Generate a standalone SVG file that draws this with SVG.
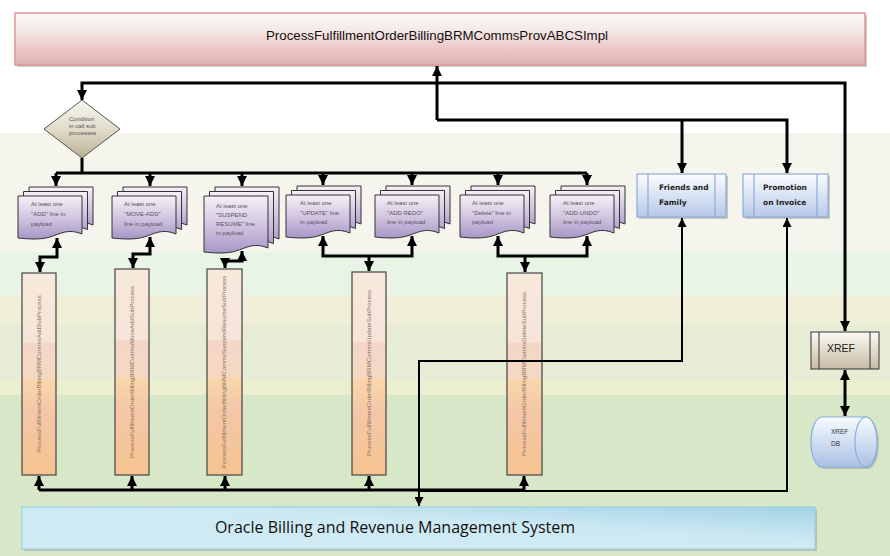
<svg xmlns="http://www.w3.org/2000/svg" width="890" height="556" viewBox="0 0 890 556">
<style>
.ln{fill:none;stroke:#000;stroke-width:3}
.lt{fill:none;stroke:#000;stroke-width:2}
.dt{font-family:"Liberation Sans",Arial,sans-serif;font-size:6px;fill:#5a5060}
.bt{font-family:"Liberation Sans",Arial,sans-serif;font-size:6px;fill:#8a7060;text-anchor:middle}
.pg{stroke:#333;stroke-width:1}
.bar{fill:url(#gBar);stroke:#444;stroke-width:1.2}
.bx{font-family:"DejaVu Sans",Verdana,sans-serif;font-size:7.5px;font-weight:bold;fill:#222}
</style>
<defs>
<linearGradient id="gTop" x1="0" y1="0" x2="0" y2="1"><stop offset="0" stop-color="#fbfaf5"/><stop offset="0.35" stop-color="#f4e8e6"/><stop offset="0.65" stop-color="#efcaca"/><stop offset="1" stop-color="#dcb2b0"/></linearGradient>
<linearGradient id="gDoc" x1="0" y1="0" x2="0" y2="1"><stop offset="0" stop-color="#f6f0f6"/><stop offset="0.5" stop-color="#d2c6e0"/><stop offset="1" stop-color="#a696c6"/></linearGradient>
<linearGradient id="gBar" x1="0" y1="0" x2="0" y2="1"><stop offset="0" stop-color="#f8e9dd"/><stop offset="0.34" stop-color="#f6e4d8"/><stop offset="0.35" stop-color="#f4d6c8"/><stop offset="0.52" stop-color="#f5d8c2"/><stop offset="0.53" stop-color="#f9d6ac"/><stop offset="0.7" stop-color="#f4c6a6"/><stop offset="1" stop-color="#f6c490"/></linearGradient>
<linearGradient id="gDia" x1="0" y1="0" x2="0" y2="1"><stop offset="0" stop-color="#f6f6f0"/><stop offset="0.5" stop-color="#e2ddca"/><stop offset="1" stop-color="#b9b192"/></linearGradient>
<linearGradient id="gBlue" x1="0" y1="0" x2="0" y2="1"><stop offset="0" stop-color="#fbfdff"/><stop offset="1" stop-color="#b6c8e8"/></linearGradient>
<linearGradient id="gXref" x1="0" y1="0" x2="0" y2="1"><stop offset="0" stop-color="#fcfaf3"/><stop offset="1" stop-color="#c6baa4"/></linearGradient>
<linearGradient id="gDB" x1="0" y1="0" x2="0" y2="1"><stop offset="0" stop-color="#f8fbff"/><stop offset="1" stop-color="#a9c1e4"/></linearGradient>
<linearGradient id="gOra" x1="0" y1="1" x2="1" y2="0"><stop offset="0" stop-color="#d2ecf4"/><stop offset="0.6" stop-color="#cde9f3"/><stop offset="1" stop-color="#a2d2e6"/></linearGradient>
<marker id="ah" viewBox="0 0 10 10" refX="10" refY="5" markerWidth="10" markerHeight="10" markerUnits="userSpaceOnUse" orient="auto-start-reverse"><path d="M0,0 L10,5 L0,10 z" fill="#000"/></marker>
<marker id="ahs" viewBox="0 0 10 10" refX="10" refY="5" markerWidth="9" markerHeight="9" markerUnits="userSpaceOnUse" orient="auto-start-reverse"><path d="M0,0 L10,5 L0,10 z" fill="#000"/></marker>
<path id="pg" d="M0,0 H64 V38 C50,32 42,38 32,41 C22,44 10,43 0,42 Z"/>
<path id="pgT" d="M0,0 H64 V52 C50,46 42,52 32,55 C22,58 10,57 0,56 Z"/>
<g id="doc" class="pg" fill="url(#gDoc)"><use href="#pg" x="11" y="-9"/><use href="#pg" x="5.5" y="-4.5"/><use href="#pg"/></g>
<g id="docT" class="pg" fill="url(#gDoc)"><use href="#pgT" x="11" y="-9"/><use href="#pgT" x="5.5" y="-4.5"/><use href="#pgT"/></g>
</defs>
<rect width="890" height="556" fill="#ffffff"/>
<rect y="133" width="890" height="119" fill="#f6f5ed"/>
<rect y="252" width="890" height="43" fill="#e7f4e6"/>
<rect y="295" width="890" height="30" fill="#eeefd6"/>
<rect y="325" width="890" height="55" fill="#e6ecd6"/>
<rect y="380" width="890" height="15" fill="#ecefcf"/>
<rect y="395" width="890" height="161" fill="#d8e7c8"/>

<g id="top">
<rect x="17" y="15" width="850" height="52" fill="#a9a9a9" opacity="0.6"/>
<rect x="15" y="13" width="850" height="52" fill="url(#gTop)" stroke="#e09494" stroke-width="1.5"/>
<text x="437" y="40" text-anchor="middle" font-family="'Liberation Sans',Arial,sans-serif" font-size="13.3" fill="#111">ProcessFulfillmentOrderBillingBRMCommsProvABCSImpl</text>
</g>

<g id="cond">
<polygon points="82,100 120,129 82,158 44,129" fill="url(#gDia)" stroke="#555" stroke-width="1"/>
<text class="dt" fill="#777"><tspan x="69" y="121">Condition</tspan><tspan x="69" y="128">in call sub</tspan><tspan x="69" y="135">processes</tspan></text>
</g>

<g id="doc1"><use href="#doc" x="18" y="196"/><text class="dt"><tspan x="31" y="206">At least one</tspan><tspan x="31" y="216">"ADD" line in</tspan><tspan x="31" y="226">payload</tspan></text></g>
<g id="doc2"><use href="#doc" x="112" y="196"/><text class="dt"><tspan x="124" y="206">At least one</tspan><tspan x="124" y="216">"MOVE-ADD"</tspan><tspan x="124" y="226">line in payload</tspan></text></g>
<g id="doc3"><use href="#docT" x="204" y="196"/><text class="dt"><tspan x="216" y="208">At least one</tspan><tspan x="216" y="217">"SUSPEND</tspan><tspan x="216" y="226">RESUME" line</tspan><tspan x="216" y="235">in payload</tspan></text></g>
<g id="doc4"><use href="#doc" x="286" y="195"/><text class="dt"><tspan x="300" y="205">At least one</tspan><tspan x="300" y="215">"UPDATE" line</tspan><tspan x="300" y="224">in payload</tspan></text></g>
<g id="doc5"><use href="#doc" x="375" y="195"/><text class="dt"><tspan x="387" y="205">At least one</tspan><tspan x="387" y="215">"ADD REDO"</tspan><tspan x="387" y="224">line in payload</tspan></text></g>
<g id="doc6"><use href="#doc" x="460" y="195"/><text class="dt"><tspan x="472" y="205">At least one</tspan><tspan x="472" y="215">"Delete" line in</tspan><tspan x="472" y="224">payload</tspan></text></g>
<g id="doc7"><use href="#doc" x="550" y="195"/><text class="dt"><tspan x="563" y="205">At least one</tspan><tspan x="563" y="215">"ADD-UNDO"</tspan><tspan x="563" y="224">line in payload</tspan></text></g>

<g id="ff">
<rect x="639" y="176" width="89" height="43" fill="#999" opacity="0.5"/>
<rect x="637" y="174" width="89" height="43" fill="url(#gBlue)" stroke="#8eaad6" stroke-width="1.2"/>
<path d="M648,174 V217 M715,174 V217" stroke="#8eaad6" stroke-width="1.2"/>
<text class="bx"><tspan x="659" y="190">Friends and</tspan><tspan x="659" y="205">Family</tspan></text>
</g>
<g id="promo">
<rect x="745" y="176" width="85" height="43" fill="#999" opacity="0.5"/>
<rect x="743" y="174" width="85" height="43" fill="url(#gBlue)" stroke="#8eaad6" stroke-width="1.2"/>
<path d="M754,174 V217 M817,174 V217" stroke="#8eaad6" stroke-width="1.2"/>
<text class="bx"><tspan x="763" y="190">Promotion</tspan><tspan x="763" y="205">on Invoice</tspan></text>
</g>

<g id="bar1"><rect class="bar" x="22" y="273" width="34" height="202"/><text class="bt" transform="translate(41,374) rotate(-90)">ProcessFulfillmentOrderBillingBRMCommsAddSubProcess</text></g>
<g id="bar2"><rect class="bar" x="115" y="269" width="34" height="206"/><text class="bt" transform="translate(134,372) rotate(-90)">ProcessFulfillmentOrderBillingBRMCommsMoveAddSubProcess</text></g>
<g id="bar3"><rect class="bar" x="207" y="269" width="35" height="206"/><text class="bt" transform="translate(226,372) rotate(-90)">ProcessFulfillmentOrderBillingBRMCommsSuspendResumeSubProcess</text></g>
<g id="bar4"><rect class="bar" x="352" y="272" width="34" height="203"/><text class="bt" transform="translate(371,373) rotate(-90)">ProcessFulfillmentOrderBillingBRMCommsUpdateSubProcess</text></g>
<g id="bar5"><rect class="bar" x="507" y="273" width="35" height="202"/><text class="bt" transform="translate(526,374) rotate(-90)">ProcessFulfillmentOrderBillingBRMCommsDeleteSubProcess</text></g>

<g id="xref">
<rect x="811" y="332" width="68" height="37" fill="url(#gXref)" stroke="#333" stroke-width="1"/>
<path d="M819,332 V369 M870,332 V369" stroke="#333" stroke-width="1"/>
<text x="841" y="352" text-anchor="middle" font-family="'Liberation Sans',Arial,sans-serif" font-size="10.5" fill="#222">XREF</text>
</g>
<g id="xrefdb">
<path d="M824,419 H868 A11,25 0 0 1 868,469 H824 A11,25 0 0 1 824,419 Z" fill="#9a9a9a" opacity="0.5"/>
<path d="M822,417 H866 A11,25 0 0 1 866,467 H822 A11,25 0 0 1 822,417 Z" fill="url(#gDB)" stroke="#8aaedc" stroke-width="1.2"/>
<ellipse cx="866" cy="442" rx="11" ry="25" fill="url(#gDB)" stroke="#8aaedc" stroke-width="1.2"/>
<text font-family="'Liberation Sans',Arial,sans-serif" font-size="6.5" fill="#333"><tspan x="831" y="434">XREF</tspan><tspan x="831" y="446">DB</tspan></text>
</g>

<g id="oracle">
<rect x="24" y="509" width="793" height="42" fill="#a8a8a8" opacity="0.6"/>
<rect x="22" y="507" width="793" height="42" fill="url(#gOra)" stroke="#9cd0e2" stroke-width="1.2"/>
<text x="395" y="533" text-anchor="middle" font-family="'Open Sans','Noto Sans',sans-serif" font-size="16" fill="#111">Oracle Billing and Revenue Management System</text>
</g>

<g id="connectors">
<path class="ln" d="M437,120 V66" marker-end="url(#ah)"/>
<path class="ln" d="M437,120 H787 V173" marker-end="url(#ah)"/>
<path class="ln" d="M682,120 V173" marker-end="url(#ah)"/>
<path class="ln" d="M845,331 V83 H82 V100" marker-start="url(#ah)" marker-end="url(#ah)"/>
<path class="ln" d="M82,158 V173 M56,173 H587"/>
<path class="ln" d="M56,173 V186" marker-end="url(#ah)"/>
<path class="ln" d="M150,173 V186" marker-end="url(#ah)"/>
<path class="ln" d="M242,173 V186" marker-end="url(#ah)"/>
<path class="ln" d="M323,173 V185" marker-end="url(#ah)"/>
<path class="ln" d="M412,173 V185" marker-end="url(#ah)"/>
<path class="ln" d="M498,173 V185" marker-end="url(#ah)"/>
<path class="ln" d="M587,173 V185" marker-end="url(#ah)"/>
<path class="ln" d="M57,238 V257 H40 V272" marker-start="url(#ah)" marker-end="url(#ah)"/>
<path class="ln" d="M150,237 V254 H133 V268" marker-start="url(#ah)" marker-end="url(#ah)"/>
<path class="ln" d="M242,251 V261 H225 V268" marker-start="url(#ah)" marker-end="url(#ah)"/>
<path class="ln" d="M323,236 V256 H412 V236" marker-start="url(#ah)" marker-end="url(#ah)"/>
<path class="ln" d="M369,256 V271" marker-end="url(#ah)"/>
<path class="ln" d="M498,236 V256 H587 V236" marker-start="url(#ah)" marker-end="url(#ah)"/>
<path class="ln" d="M525,256 V272" marker-end="url(#ah)"/>
<path class="lt" d="M787,218 V491 H419" marker-start="url(#ahs)"/>
<path class="lt" d="M682,218 V361 H419 V506" marker-start="url(#ahs)" marker-end="url(#ahs)"/>
<path class="ln" d="M39,490 H524"/>
<path class="ln" d="M39,490 V476" marker-end="url(#ah)"/>
<path class="ln" d="M132,490 V476" marker-end="url(#ah)"/>
<path class="ln" d="M225,490 V476" marker-end="url(#ah)"/>
<path class="ln" d="M369,490 V476" marker-end="url(#ah)"/>
<path class="ln" d="M524,490 V476" marker-end="url(#ah)"/>
<path class="ln" d="M845,370 V416" marker-start="url(#ah)" marker-end="url(#ah)"/>
</g>
</svg>
